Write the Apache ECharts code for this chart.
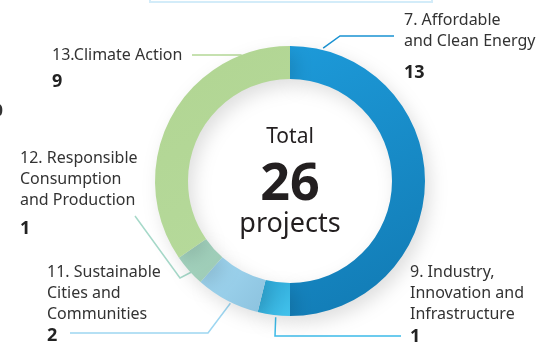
<!DOCTYPE html>
<html><head><meta charset="utf-8">
<script src="https://cdn.jsdelivr.net/npm/echarts@6/dist/echarts.min.js"></script>
<style>html,body{margin:0;padding:0;background:#fff}#c{width:549px;height:345px}</style>
</head><body><div id="c"></div>
<script>
// ---- data ----
const categories = [
  ['7. Affordable', 'and Clean Energy'],
  ['9. Industry,', 'Innovation and', 'Infrastructure'],
  ['11. Sustainable', 'Cities and', 'Communities'],
  ['12. Responsible', 'Consumption', 'and Production'],
  ['13.Climate Action']
];
const values = [13, 1, 2, 1, 9];
const centerTitle = 'Total';
const centerUnit = 'projects';

// ---- styles / layout ----
const sliceColors = [
  ['#1d9ad9', '#1179b2'],
  ['#2aa3d2', '#42c2ec'],
  ['#a3daf4', '#8cc2de'],
  ['#a8dac6', '#9bc8b2'],
  ['#b1d592', '#b6da9c']
];
const lineColors = ['#1a92d2', '#3cbbe9', '#9dd6f1', '#a6d9c9', '#b4d896'];
const CX = 290, CY = 181, R_IN = 102, R_OUT = 135;
const labelPos = [
  {x: 404, y: 9.5, vlh: 42},
  {x: 410, y: 261.5, vlh: 25},
  {x: 47, y: 261.5, vlh: 23},
  {x: 20, y: 147.5, vlh: 37},
  {x: 52, y: 44.5, vlh: 33}
];
const leaders = [
  {ang: 14, r: 137, pts: [[340, 36], [394, 36]]},
  {ang: 186, r: 137, pts: [[275, 336], [401, 336]]},
  {ang: 206, r: 136, pts: [[208, 333], [70, 333]]},
  {ang: 227, r: 132, pts: [[180, 278], [135, 216]]},
  {ang: 339, r: 135, pts: [[216, 55], [192, 55]]}
];
function anchor(i) {
  const a = leaders[i].ang * Math.PI / 180, r = leaders[i].r;
  return [CX + r * Math.sin(a), CY - r * Math.cos(a)];
}

const total = values.reduce((a, b) => a + b, 0);
const FONT = '"Noto Sans", Roboto, sans-serif';

const data = values.map((v, i) => ({
  name: categories[i].join(' '),
  value: v,
  itemStyle: {
    color: new echarts.graphic.LinearGradient(0, 0, 1, 1, [
      {offset: 0, color: sliceColors[i][0]},
      {offset: 1, color: sliceColors[i][1]}
    ])
  },
  labelLine: {lineStyle: {color: lineColors[i], width: 1.5}},
  label: {
    formatter: categories[i].map(s => '{t|' + s + '}').join('\n') + '\n{v|' + v + '}',
    rich: {
      t: {fontSize: 16, lineHeight: 21, color: '#333', fontFamily: FONT},
      v: {fontSize: 18, fontWeight: 'bold', lineHeight: labelPos[i].vlh, color: '#222', fontFamily: FONT}
    }
  }
}));

const chart = echarts.init(document.getElementById('c'), null, {renderer: 'canvas'});
chart.setOption({
  animation: false,
  backgroundColor: '#fff',
  graphic: [
    {type: 'rect', shape: {x: 150, y: -12, width: 282, height: 14}, style: {fill: 'none', stroke: '#d3ecf9', lineWidth: 2}},
    {type: 'text', x: 3, y: 111, style: {text: '0', fontSize: 16, fontWeight: 'bold', fill: '#333', align: 'right', verticalAlign: 'middle', fontFamily: FONT}},
    {type: 'text', x: CX, y: 137, style: {text: centerTitle, fontSize: 21, fill: '#231f20', align: 'center', verticalAlign: 'middle', fontFamily: FONT}},
    {type: 'text', x: CX, y: 185, style: {text: String(total), fontSize: 52, fontWeight: 'bold', fill: '#231f20', align: 'center', verticalAlign: 'middle', fontFamily: FONT}},
    {type: 'text', x: CX, y: 224, style: {text: centerUnit, fontSize: 27, fill: '#231f20', align: 'center', verticalAlign: 'middle', fontFamily: FONT}}
  ],
  series: [{
    type: 'pie',
    center: [CX, CY],
    radius: [R_IN, R_OUT],
    startAngle: 90,
    clockwise: true,
    avoidLabelOverlap: false,
    emphasis: {disabled: true},
    itemStyle: {shadowBlur: 18, shadowColor: 'rgba(0,0,0,0.13)', shadowOffsetX: 5, shadowOffsetY: 7},
    label: {show: true, position: 'outside'},
    labelLine: {show: true, length: 10, length2: 10, smooth: false},
    labelLayout: function (p) {
      const i = p.dataIndex, L = labelPos[i];
      return {
        x: L.x, y: L.y, align: 'left', verticalAlign: 'top',
        labelLinePoints: [anchor(i)].concat(leaders[i].pts)
      };
    },
    data: data
  }]
});
</script>
</body></html>
